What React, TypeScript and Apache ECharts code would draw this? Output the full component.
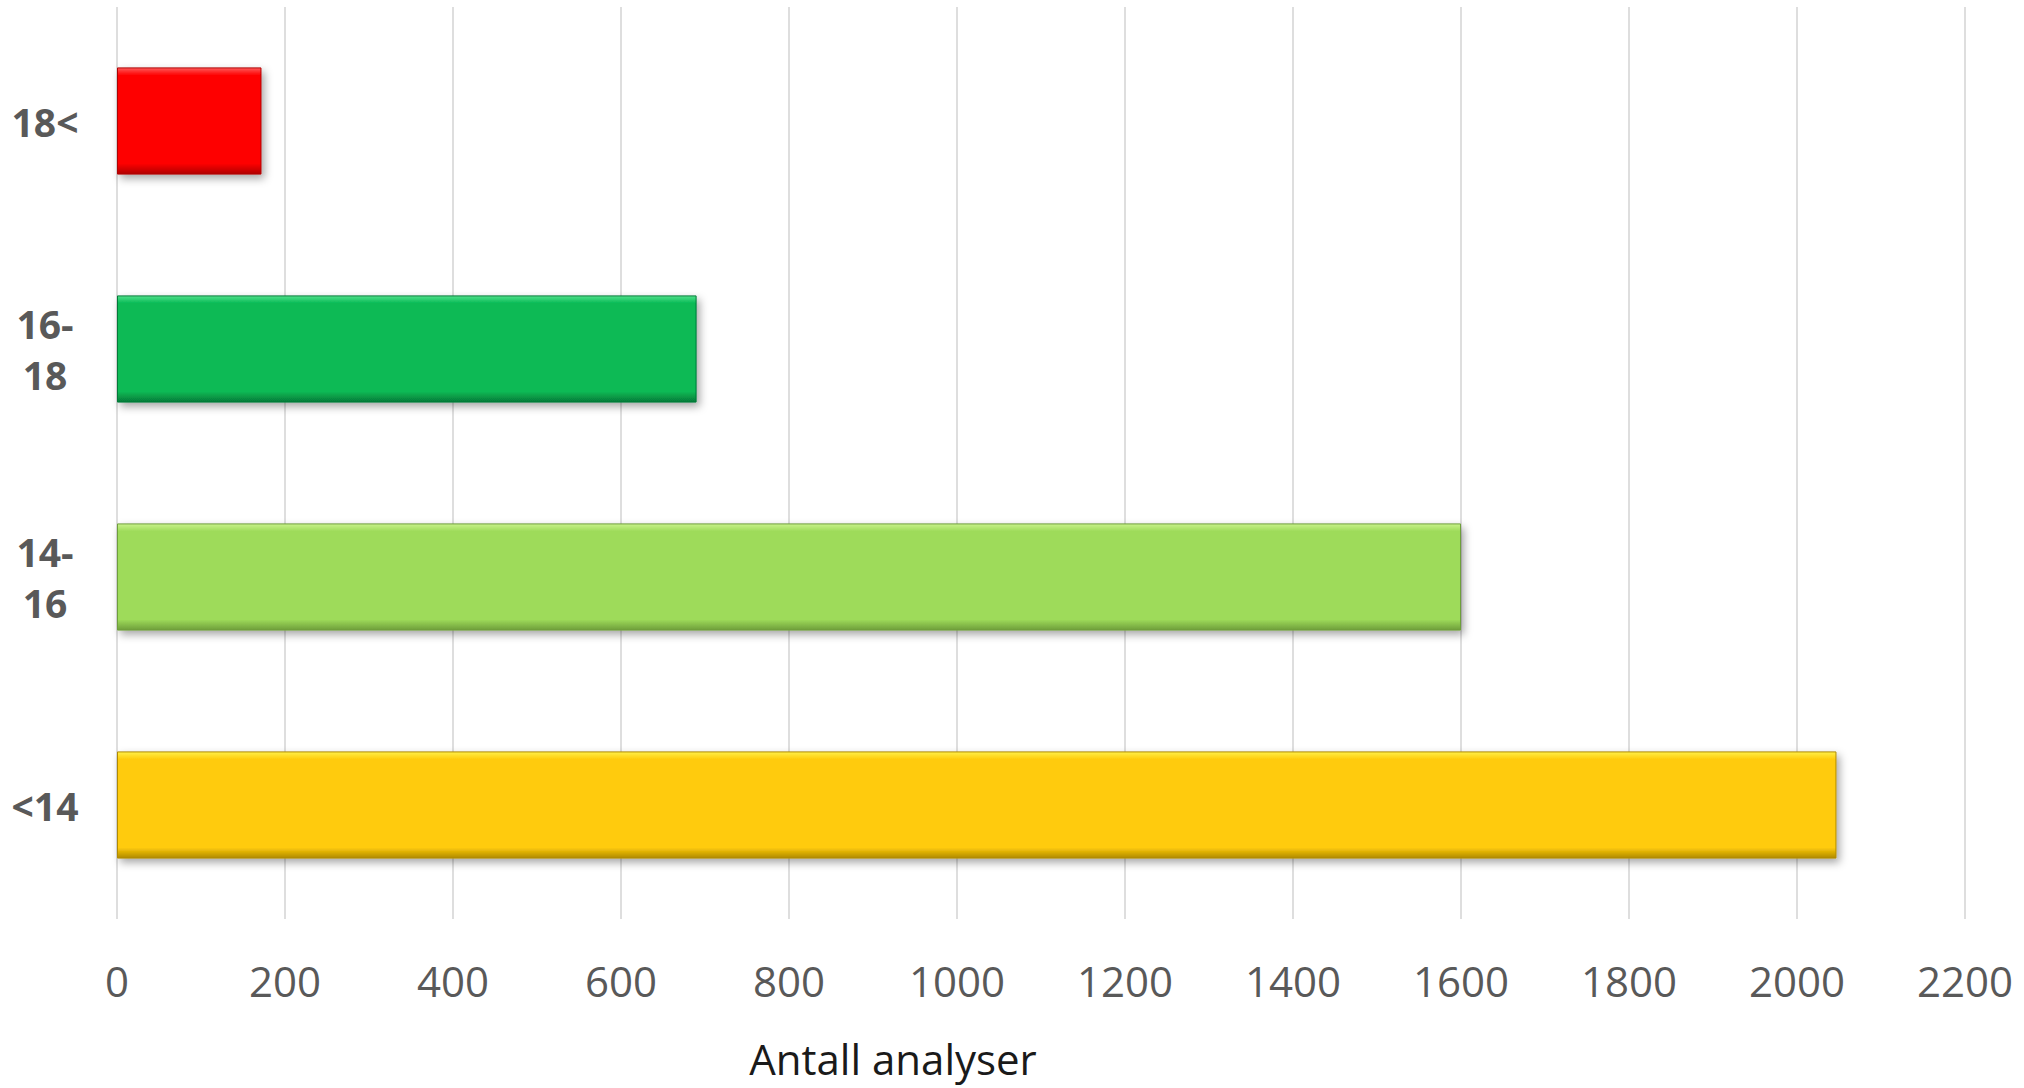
import React, { useEffect, useRef } from "react";
import * as echarts from "echarts";

const categories = ["<14", "14-\n16", "16-\n18", "18<"];
const values = [2047, 1600, 690, 172];
const barColors = ["#FFCB0A", "#9EDB5A", "#08BA55", "#FE0000"];
const lightColors = ["#FFF04A", "#C8F28A", "#4FE08A", "#FF5A5A"];
const darkColors = ["#B08A00", "#6E9E3A", "#067A38", "#B00000"];
const xTicks = { min: 0, max: 2200, interval: 200 };
const axisTitle = "Antall analyser";

export default function App() {
  const ref = useRef<HTMLDivElement>(null);
  useEffect(() => {
    if (!ref.current) return;
    const chart = echarts.init(ref.current, null, { renderer: "svg" });
    chart.setOption({
      animation: false,
      backgroundColor: "#ffffff",
      grid: { left: 117, right: 59, top: 7, bottom: 169, containLabel: false },
      xAxis: {
        type: "value",
        min: xTicks.min,
        max: xTicks.max,
        interval: xTicks.interval,
        axisLine: { show: false },
        axisTick: { show: false },
        splitLine: { show: true, lineStyle: { color: "#DEDEDE", width: 2 } },
        axisLabel: {
          color: "#595959",
          fontSize: 42,
          fontFamily: "Open Sans",
          margin: 40,
          formatter: (v: number) => String(v),
        },
      },
      yAxis: {
        type: "category",
        data: categories,
        axisLine: { show: false },
        axisTick: { show: false },
        axisLabel: {
          color: "#595959",
          fontSize: 39,
          fontWeight: "bold",
          fontFamily: "Open Sans",
          align: "center",
          margin: 72,
          lineHeight: 51,
        },
      },
      series: [
        {
          type: "bar",
          barWidth: "47%",
          data: values.map((v, i) => ({
            value: v,
            itemStyle: {
              color: new echarts.graphic.LinearGradient(0, 0, 0, 1, [
                { offset: 0, color: lightColors[i] },
                { offset: 0.07, color: barColors[i] },
                { offset: 0.9, color: barColors[i] },
                { offset: 1, color: darkColors[i] },
              ]),
              borderColor: darkColors[i],
              borderWidth: 1,
              shadowColor: "rgba(0,0,0,0.35)",
              shadowBlur: 8,
              shadowOffsetX: 3,
              shadowOffsetY: 4,
            },
          })),
        },
      ],
      graphic: [
        {
          type: "text",
          x: 893,
          y: 1058,
          style: {
            text: axisTitle,
            fill: "#1A1A1A",
            fontSize: 42,
            fontFamily: "Open Sans",
            textAlign: "center",
            textVerticalAlign: "middle",
          },
        },
      ],
    });
    return () => chart.dispose();
  }, []);
  return (
    <div
      ref={ref}
      style={{ position: "fixed", left: 0, top: 0, width: 2024, height: 1088 }}
    />
  );
}
